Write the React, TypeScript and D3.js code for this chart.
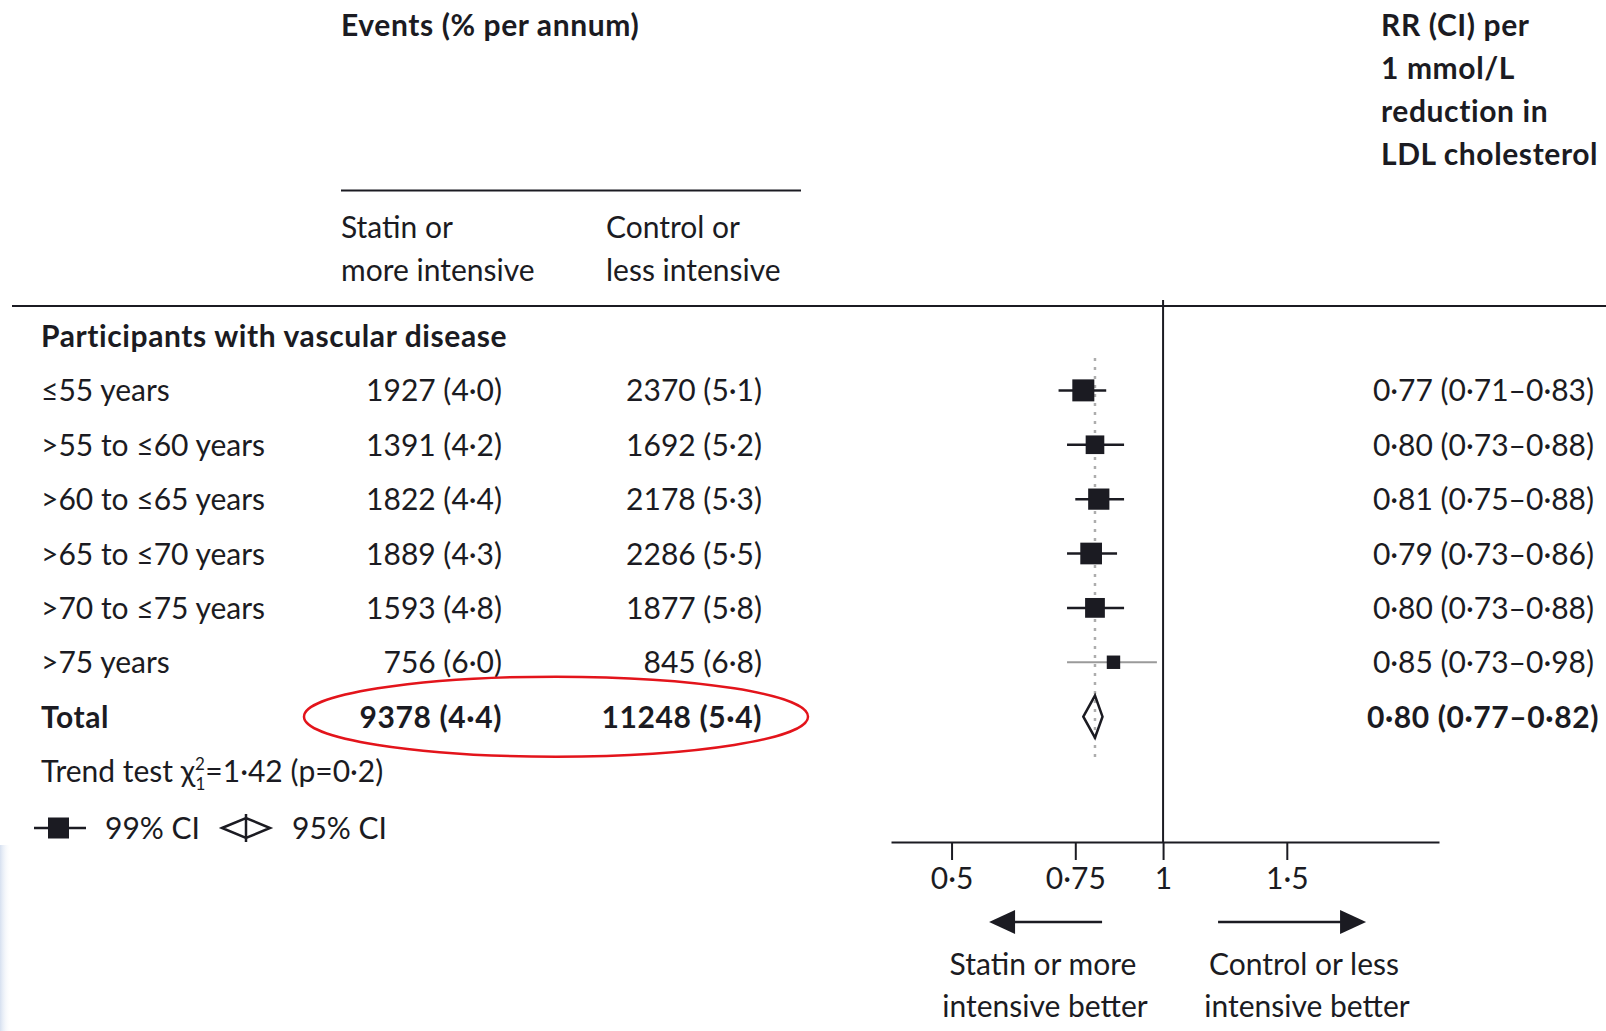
import React, { useRef, useEffect } from 'react';
import * as d3 from 'd3';

// age groups and their numbers
const groups = ['≤55 years', '>55 to ≤60 years', '>60 to ≤65 years', '>65 to ≤70 years', '>70 to ≤75 years', '>75 years'];
const statinEvents = [1927, 1391, 1822, 1889, 1593, 756];
const statinRate = [4.0, 4.2, 4.4, 4.3, 4.8, 6.0];
const controlEvents = [2370, 1692, 2178, 2286, 1877, 845];
const controlRate = [5.1, 5.2, 5.3, 5.5, 5.8, 6.8];
const rr = [0.77, 0.8, 0.81, 0.79, 0.8, 0.85];
const ciLow = [0.71, 0.73, 0.75, 0.73, 0.73, 0.73];
const ciHigh = [0.83, 0.88, 0.88, 0.86, 0.88, 0.98];

const totalEvents = [9378, 11248];
const totalRate = [4.4, 5.4];
const totalRR = [0.8, 0.77, 0.82];

const tickValues = [0.5, 0.75, 1, 1.5];

const W = 1606;
const H = 1031;
const FONT = "Lato, 'Open Sans', sans-serif";
const INK = '#1b1b22';

const fmt = (v: number, d: number) => d3.format(`.${d}f`)(v).replace('.', '·');

export default function App() {
  const svgRef = useRef<SVGSVGElement>(null);

  useEffect(() => {
    const svg = d3.select(svgRef.current);
    svg.selectAll('*').remove();

    const x = d3.scaleLog().domain([0.41, 2.47]).range([891, 1439]);
    const rowY = d3.scaleLinear().domain([0, 8]).range([336, 771]);
    const size = d3
      .scaleSqrt()
      .domain([0, d3.max(statinEvents.map((s, i) => s + controlEvents[i])) as number])
      .range([0, 22]);

    const axisY = 842;
    const fs = 30;
    const base = 11; // baseline offset from visual centre of text

    // faint bluish edge at bottom left
    const defs = svg.append('defs');
    const grad = defs.append('linearGradient').attr('id', 'edge').attr('x1', 0).attr('x2', 1);
    grad.append('stop').attr('offset', 0).attr('stop-color', '#d6e0f0');
    grad.append('stop').attr('offset', 1).attr('stop-color', '#ffffff').attr('stop-opacity', 0);
    svg.append('rect').attr('x', 0).attr('y', 845).attr('width', 11).attr('height', H - 845).attr('fill', 'url(#edge)');

    const text = (tx: number, ty: number, str: string, opts: { anchor?: string; bold?: boolean; size?: number } = {}) =>
      svg
        .append('text')
        .attr('x', tx)
        .attr('y', ty + base)
        .attr('font-family', FONT)
        .attr('font-size', opts.size || fs)
        .attr('font-weight', opts.bold ? 700 : 400)
        .attr('letter-spacing', opts.bold ? 0.6 : 0)
        .attr('text-anchor', opts.anchor || 'start')
        .attr('fill', INK)
        .text(str);

    // headers
    text(341, 25, 'Events (% per annum)', { bold: true });
    ['RR (CI) per', '1 mmol/L', 'reduction in', 'LDL cholesterol'].forEach((s, i) =>
      text(1381, 25 + i * 43, s, { bold: true })
    );
    svg.append('line').attr('x1', 341).attr('x2', 801).attr('y1', 190.5).attr('y2', 190.5).attr('stroke', INK).attr('stroke-width', 2);
    text(341, 227, 'Statin or');
    text(341, 270, 'more intensive');
    text(606, 227, 'Control or');
    text(606, 270, 'less intensive');
    svg.append('line').attr('x1', 12).attr('x2', W).attr('y1', 306).attr('y2', 306).attr('stroke', INK).attr('stroke-width', 2);

    text(41, rowY(0), 'Participants with vascular disease', { bold: true });

    // rows
    groups.forEach((g, i) => {
      const y = rowY(i + 1);
      text(41, y, g);
      text(502, y, `${statinEvents[i]} (${fmt(statinRate[i], 1)})`, { anchor: 'end' });
      text(762, y, `${controlEvents[i]} (${fmt(controlRate[i], 1)})`, { anchor: 'end' });
      text(1594, y, `${fmt(rr[i], 2)} (${fmt(ciLow[i], 2)}–${fmt(ciHigh[i], 2)})`, { anchor: 'end' });
    });

    const yTot = rowY(7);
    text(41, yTot, 'Total', { bold: true });
    text(502, yTot, `${totalEvents[0]} (${fmt(totalRate[0], 1)})`, { anchor: 'end', bold: true });
    text(762, yTot, `${totalEvents[1]} (${fmt(totalRate[1], 1)})`, { anchor: 'end', bold: true });
    text(1599, yTot, `${fmt(totalRR[0], 2)} (${fmt(totalRR[1], 2)}–${fmt(totalRR[2], 2)})`, { anchor: 'end', bold: true });

    // trend test
    const trend = text(41, rowY(8), 'Trend test χ');
    trend.append('tspan').attr('font-size', 17).attr('dy', -12).text('2');
    trend.append('tspan').attr('font-size', 17).attr('dx', -9.5).attr('dy', 20).text('1');
    trend.append('tspan').attr('dy', -8).text('=1·42 (p=0·2)');

    // legend
    const yLeg = 828;
    svg.append('line').attr('x1', 34).attr('x2', 86).attr('y1', yLeg).attr('y2', yLeg).attr('stroke', INK).attr('stroke-width', 2.5);
    svg.append('rect').attr('x', 48).attr('y', yLeg - 10.5).attr('width', 21).attr('height', 21).attr('fill', INK);
    text(105, yLeg, '99% CI');
    svg
      .append('polygon')
      .attr('points', `222,${yLeg} 246,${yLeg - 10} 270,${yLeg} 246,${yLeg + 10}`)
      .attr('fill', 'none')
      .attr('stroke', INK)
      .attr('stroke-width', 2.5);
    svg.append('line').attr('x1', 246).attr('x2', 246).attr('y1', yLeg - 14).attr('y2', yLeg + 14).attr('stroke', INK).attr('stroke-width', 2.5);
    text(292, yLeg, '95% CI');

    // red annotation ring around totals
    svg
      .append('ellipse')
      .attr('cx', 556)
      .attr('cy', yTot)
      .attr('rx', 252)
      .attr('ry', 40)
      .attr('fill', 'none')
      .attr('stroke', '#e3141b')
      .attr('stroke-width', 2.5);

    // reference lines
    svg
      .append('line')
      .attr('x1', x(totalRR[0]))
      .attr('x2', x(totalRR[0]))
      .attr('y1', 358)
      .attr('y2', 758)
      .attr('stroke', '#adadad')
      .attr('stroke-width', 2.5)
      .attr('stroke-dasharray', '3,6');
    svg.append('line').attr('x1', x(1)).attr('x2', x(1)).attr('y1', 300).attr('y2', axisY).attr('stroke', INK).attr('stroke-width', 2);

    // CIs and squares
    const marks = svg.append('g');
    groups.forEach((g, i) => {
      const y = rowY(i + 1);
      const n = statinEvents[i] + controlEvents[i];
      const faint = n < 2000;
      marks
        .append('line')
        .attr('x1', x(ciLow[i]))
        .attr('x2', x(ciHigh[i]))
        .attr('y1', y)
        .attr('y2', y)
        .attr('stroke', faint ? '#9a9a9a' : INK)
        .attr('stroke-width', faint ? 2 : 2.5);
      const s = size(n);
      marks
        .append('rect')
        .attr('x', x(rr[i]) - s / 2)
        .attr('y', y - s / 2)
        .attr('width', s)
        .attr('height', s)
        .attr('fill', INK);
    });

    marks
      .append('polygon')
      .attr(
        'points',
        [
          [x(totalRR[1]), yTot],
          [x(totalRR[0]), yTot - 21],
          [x(totalRR[2]), yTot],
          [x(totalRR[0]), yTot + 21],
        ]
          .map((p) => p.join(','))
          .join(' ')
      )
      .attr('fill', 'none')
      .attr('stroke', INK)
      .attr('stroke-width', 2.5);

    // axis
    const axis = d3
      .axisBottom(x)
      .tickValues(tickValues)
      .tickSize(18)
      .tickSizeOuter(0)
      .tickPadding(8)
      .tickFormat((d) => fmt(d as number, String(d).split('.')[1]?.length || 0));
    const ax = svg.append('g').attr('transform', `translate(0,${axisY})`).call(axis);
    ax.select('.domain').attr('stroke', INK).attr('stroke-width', 2);
    ax.selectAll('.tick line').attr('stroke', INK).attr('stroke-width', 2);
    ax.selectAll('.tick text').attr('fill', INK).attr('font-family', FONT).attr('font-size', fs);

    // direction arrows
    const ay = 922;
    const arrow = (from: number, to: number) => {
      const dir = Math.sign(to - from);
      svg.append('line').attr('x1', from).attr('x2', to - dir * 20).attr('y1', ay).attr('y2', ay).attr('stroke', INK).attr('stroke-width', 2.5);
      svg
        .append('polygon')
        .attr('points', `${to},${ay} ${to - dir * 26},${ay - 12} ${to - dir * 26},${ay + 12}`)
        .attr('fill', INK);
    };
    arrow(x(1) - 61, x(1) - 174);
    arrow(x(1) + 55, x(1) + 203);

    text(1043, 964, 'Statin or more', { anchor: 'middle' });
    text(1045, 1006, 'intensive better', { anchor: 'middle' });
    text(1304, 964, 'Control or less', { anchor: 'middle' });
    text(1307, 1006, 'intensive better', { anchor: 'middle' });
  }, []);

  return (
    <svg
      ref={svgRef}
      width={W}
      height={H}
      style={{ position: 'absolute', left: 0, top: 0, background: '#fff' }}
    />
  );
}
